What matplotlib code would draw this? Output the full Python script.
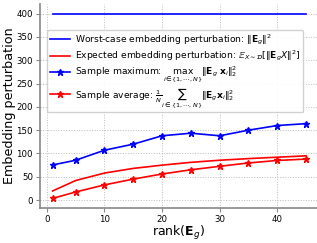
import matplotlib
matplotlib.use("Agg")
import matplotlib.pyplot as plt

ranks = [1, 5, 10, 15, 20, 25, 30, 35, 40, 45]
worst_case = [400] * len(ranks)
expected = [19.6, 42, 58, 68, 75, 81, 85.5, 89, 92, 95]
sample_max = [75.4, 85.5, 107, 120, 138, 143.5, 138, 150, 160, 164]
sample_avg = [3.6, 17.4, 32.6, 45, 56, 65, 72.5, 79.7, 85, 88]

fig = plt.figure(figsize=(3.17, 2.43), dpi=100)
ax = fig.add_axes([0.126, 0.144, 0.874, 0.84])

ax.plot(ranks, worst_case, color='blue', lw=1.2,
        label=r'Worst-case embedding perturbation: $\|\mathbf{E}_g\|^2$')
ax.plot(ranks, expected, color='red', lw=1.2,
        label=r'Expected embedding perturbation: $\mathbb{E}_{X\sim\mathcal{D}}[\|\mathbf{E}_g X\|^2]$')
ax.plot(ranks, sample_max, color='blue', lw=1.2, marker='*', ms=5,
        label=r'Sample maximum: $\max_{i\in\{1,\cdots,N\}}\|\mathbf{E}_g\,\mathbf{x}_i\|_2^2$')
ax.plot(ranks, sample_avg, color='red', lw=1.2, marker='*', ms=5,
        label=r'Sample average: $\frac{1}{N}\sum_{i\in\{1,\cdots,N\}}\|\mathbf{E}_g\mathbf{x}_i\|_2^2$')

ax.set_xlim(-1.2, 46.9)
ax.set_ylim(-17, 421)
ax.set_xticks([0, 10, 20, 30, 40])
ax.set_yticks([0, 50, 100, 150, 200, 250, 300, 350, 400])
ax.tick_params(labelsize=6.2, length=3, color='#888888', width=0.8, pad=2)
for s in ['top', 'right']:
    ax.spines[s].set_visible(False)
for s in ['left', 'bottom']:
    ax.spines[s].set_color('#888888')
    ax.spines[s].set_linewidth(1.2)
ax.grid(True, linestyle=':', color='#bbbbbb', linewidth=0.7)
ax.set_xlabel(r'rank($\mathbf{E}_g$)', fontsize=9, labelpad=0)
ax.set_ylabel('Embedding perturbation', fontsize=9.2)
ax.yaxis.set_label_coords(-0.088, 0.5)

ax.legend(loc='upper left', bbox_to_anchor=(0.025, 0.873), fontsize=6.6,
          handlelength=2.2, framealpha=0.9, borderpad=0.3, labelspacing=0.2,
          borderaxespad=0, handletextpad=0.6, edgecolor='#cccccc')

fig.savefig('out.png', dpi=100)
